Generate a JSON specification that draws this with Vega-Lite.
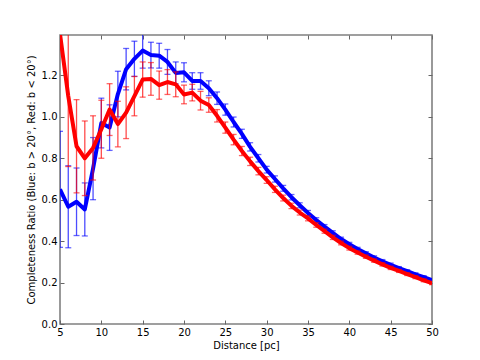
{
  "$schema": "https://vega.github.io/schema/vega-lite/v6.json",
  "width": 372,
  "height": 289,
  "autosize": "none",
  "padding": {"left": 60, "top": 35, "right": 48, "bottom": 36},
  "background": "white",
  "config": {
    "view": {"stroke": "#808080", "strokeWidth": 1.6},
    "axis": {
      "domain": false,
      "grid": false,
      "tickSize": -4,
      "tickColor": "#666666",
      "labelFont": "DejaVu Sans",
      "labelFontSize": 10,
      "labelColor": "#000000",
      "titleFont": "DejaVu Sans",
      "titleFontSize": 10,
      "titleFontWeight": "normal",
      "titleColor": "#000000"
    }
  },
  "datasets": {
    "pts": [
      {"d":5,"s":"blue","v":0.65,"lo":0.37,"hi":0.93},
      {"d":6,"s":"blue","v":0.566,"lo":0.368,"hi":0.764},
      {"d":7,"s":"blue","v":0.59,"lo":0.427,"hi":0.753},
      {"d":8,"s":"blue","v":0.553,"lo":0.425,"hi":0.681},
      {"d":9,"s":"blue","v":0.75,"lo":0.60,"hi":0.90},
      {"d":10,"s":"blue","v":0.97,"lo":0.85,"hi":1.09},
      {"d":11,"s":"blue","v":0.948,"lo":0.838,"hi":1.058},
      {"d":12,"s":"blue","v":1.11,"lo":1.00,"hi":1.22},
      {"d":13,"s":"blue","v":1.23,"lo":1.13,"hi":1.33},
      {"d":14,"s":"blue","v":1.28,"lo":1.195,"hi":1.365},
      {"d":15,"s":"blue","v":1.32,"lo":1.235,"hi":1.405},
      {"d":16,"s":"blue","v":1.298,"lo":1.236,"hi":1.36},
      {"d":17,"s":"blue","v":1.295,"lo":1.235,"hi":1.355},
      {"d":18,"s":"blue","v":1.265,"lo":1.205,"hi":1.325},
      {"d":19,"s":"blue","v":1.212,"lo":1.159,"hi":1.265},
      {"d":20,"s":"blue","v":1.215,"lo":1.169,"hi":1.261},
      {"d":21,"s":"blue","v":1.173,"lo":1.133,"hi":1.213},
      {"d":22,"s":"blue","v":1.173,"lo":1.133,"hi":1.213},
      {"d":23,"s":"blue","v":1.138,"lo":1.102,"hi":1.174},
      {"d":24,"s":"blue","v":1.09,"lo":1.06,"hi":1.12},
      {"d":25,"s":"blue","v":1.035,"lo":1.008,"hi":1.062},
      {"d":26,"s":"blue","v":0.975,"lo":0.951,"hi":0.999},
      {"d":27,"s":"blue","v":0.918,"lo":0.896,"hi":0.94},
      {"d":28,"s":"blue","v":0.855,"lo":0.835,"hi":0.875},
      {"d":29,"s":"blue","v":0.80,"lo":0.782,"hi":0.818},
      {"d":30,"s":"blue","v":0.745,"lo":0.729,"hi":0.761},
      {"d":31,"s":"blue","v":0.70,"lo":0.685,"hi":0.715},
      {"d":32,"s":"blue","v":0.655,"lo":0.641,"hi":0.669},
      {"d":33,"s":"blue","v":0.612,"lo":0.599,"hi":0.625},
      {"d":34,"s":"blue","v":0.573,"lo":0.561,"hi":0.585},
      {"d":35,"s":"blue","v":0.536,"lo":0.524,"hi":0.548},
      {"d":36,"s":"blue","v":0.502,"lo":0.491,"hi":0.513},
      {"d":37,"s":"blue","v":0.47,"lo":0.46,"hi":0.48},
      {"d":38,"s":"blue","v":0.44,"lo":0.43,"hi":0.45},
      {"d":39,"s":"blue","v":0.41,"lo":0.401,"hi":0.419},
      {"d":40,"s":"blue","v":0.385,"lo":0.376,"hi":0.394},
      {"d":41,"s":"blue","v":0.362,"lo":0.354,"hi":0.37},
      {"d":42,"s":"blue","v":0.341,"lo":0.333,"hi":0.349},
      {"d":43,"s":"blue","v":0.321,"lo":0.313,"hi":0.329},
      {"d":44,"s":"blue","v":0.303,"lo":0.295,"hi":0.311},
      {"d":45,"s":"blue","v":0.286,"lo":0.278,"hi":0.294},
      {"d":46,"s":"blue","v":0.27,"lo":0.263,"hi":0.277},
      {"d":47,"s":"blue","v":0.255,"lo":0.248,"hi":0.262},
      {"d":48,"s":"blue","v":0.24,"lo":0.233,"hi":0.247},
      {"d":49,"s":"blue","v":0.226,"lo":0.219,"hi":0.233},
      {"d":50,"s":"blue","v":0.212,"lo":0.205,"hi":0.219},
      {"d":5,"s":"red","v":1.40,"lo":null,"hi":null},
      {"d":6,"s":"red","v":1.10,"lo":0.76,"hi":1.44},
      {"d":7,"s":"red","v":0.858,"lo":0.633,"hi":1.083},
      {"d":8,"s":"red","v":0.80,"lo":0.62,"hi":0.98},
      {"d":9,"s":"red","v":0.85,"lo":0.695,"hi":1.005},
      {"d":10,"s":"red","v":0.94,"lo":0.80,"hi":1.08},
      {"d":11,"s":"red","v":1.035,"lo":0.91,"hi":1.16},
      {"d":12,"s":"red","v":0.965,"lo":0.855,"hi":1.075},
      {"d":13,"s":"red","v":1.02,"lo":0.895,"hi":1.145},
      {"d":14,"s":"red","v":1.10,"lo":1.005,"hi":1.195},
      {"d":15,"s":"red","v":1.18,"lo":1.095,"hi":1.265},
      {"d":16,"s":"red","v":1.183,"lo":1.104,"hi":1.262},
      {"d":17,"s":"red","v":1.153,"lo":1.085,"hi":1.221},
      {"d":18,"s":"red","v":1.168,"lo":1.108,"hi":1.228},
      {"d":19,"s":"red","v":1.157,"lo":1.097,"hi":1.217},
      {"d":20,"s":"red","v":1.108,"lo":1.063,"hi":1.153},
      {"d":21,"s":"red","v":1.117,"lo":1.077,"hi":1.157},
      {"d":22,"s":"red","v":1.078,"lo":1.033,"hi":1.123},
      {"d":23,"s":"red","v":1.057,"lo":1.022,"hi":1.092},
      {"d":24,"s":"red","v":1.005,"lo":0.975,"hi":1.035},
      {"d":25,"s":"red","v":0.948,"lo":0.921,"hi":0.975},
      {"d":26,"s":"red","v":0.89,"lo":0.865,"hi":0.915},
      {"d":27,"s":"red","v":0.835,"lo":0.813,"hi":0.857},
      {"d":28,"s":"red","v":0.785,"lo":0.765,"hi":0.805},
      {"d":29,"s":"red","v":0.738,"lo":0.72,"hi":0.756},
      {"d":30,"s":"red","v":0.695,"lo":0.679,"hi":0.711},
      {"d":31,"s":"red","v":0.65,"lo":0.635,"hi":0.665},
      {"d":32,"s":"red","v":0.608,"lo":0.594,"hi":0.622},
      {"d":33,"s":"red","v":0.57,"lo":0.557,"hi":0.583},
      {"d":34,"s":"red","v":0.538,"lo":0.526,"hi":0.55},
      {"d":35,"s":"red","v":0.51,"lo":0.498,"hi":0.522},
      {"d":36,"s":"red","v":0.478,"lo":0.467,"hi":0.489},
      {"d":37,"s":"red","v":0.448,"lo":0.438,"hi":0.458},
      {"d":38,"s":"red","v":0.418,"lo":0.408,"hi":0.428},
      {"d":39,"s":"red","v":0.391,"lo":0.382,"hi":0.40},
      {"d":40,"s":"red","v":0.366,"lo":0.357,"hi":0.375},
      {"d":41,"s":"red","v":0.345,"lo":0.337,"hi":0.353},
      {"d":42,"s":"red","v":0.325,"lo":0.317,"hi":0.333},
      {"d":43,"s":"red","v":0.306,"lo":0.298,"hi":0.314},
      {"d":44,"s":"red","v":0.288,"lo":0.28,"hi":0.296},
      {"d":45,"s":"red","v":0.271,"lo":0.263,"hi":0.279},
      {"d":46,"s":"red","v":0.256,"lo":0.249,"hi":0.263},
      {"d":47,"s":"red","v":0.241,"lo":0.234,"hi":0.248},
      {"d":48,"s":"red","v":0.226,"lo":0.219,"hi":0.233},
      {"d":49,"s":"red","v":0.211,"lo":0.204,"hi":0.218},
      {"d":50,"s":"red","v":0.197,"lo":0.19,"hi":0.204}
    ]
  },
  "data": {"name": "pts"},
  "resolve": {"axis": {"x": "independent", "y": "independent"}},
  "layer": [
    {
      "transform": [{"filter": "datum.s === 'blue' && datum.lo != null"}],
      "mark": {"type": "rule", "color": "#0000ff", "strokeWidth": 1.3, "opacity": 0.7, "clip": true},
      "encoding": {
        "x": {"field": "d", "type": "quantitative", "scale": {"domain": [5, 50], "nice": false}, "title": "Distance [pc]",
              "axis": {"orient": "bottom", "values": [5,10,15,20,25,30,35,40,45,50], "format": "d", "labelPadding": 7, "titlePadding": 3, "labelFlush": false}},
        "y": {"field": "lo", "type": "quantitative", "scale": {"domain": [0, 1.395], "nice": false, "zero": false},
              "title": "Completeness Ratio (Blue: b > 20°, Red: b < 20°)",
              "axis": {"orient": "left", "values": [0,0.2,0.4,0.6,0.8,1.0,1.2], "format": ".1f", "labelPadding": 7, "titlePadding": 5, "labelFlush": false}},
        "y2": {"field": "hi"}
      }
    },
    {
      "transform": [{"filter": "datum.s === 'blue' && datum.lo != null"}, {"fold": ["lo", "hi"], "as": ["k", "ev"]}],
      "mark": {"type": "tick", "color": "#0000ff", "thickness": 1.3, "size": 6, "opacity": 0.6, "orient": "horizontal", "clip": true},
      "encoding": {
        "x": {"field": "d", "type": "quantitative", "axis": {"orient": "top", "values": [5,10,15,20,25,30,35,40,45,50], "labels": false, "title": null}},
        "y": {"field": "ev", "type": "quantitative", "axis": {"orient": "right", "values": [0,0.2,0.4,0.6,0.8,1.0,1.2], "labels": false, "title": null}}
      }
    },
    {
      "transform": [{"filter": "datum.s === 'blue'"}],
      "mark": {"type": "line", "color": "#0000ff", "strokeWidth": 4, "clip": true, "strokeJoin": "round"},
      "encoding": {
        "x": {"field": "d", "type": "quantitative", "axis": null},
        "y": {"field": "v", "type": "quantitative", "axis": null}
      }
    },
    {
      "transform": [{"filter": "datum.s === 'red' && datum.lo != null"}],
      "mark": {"type": "rule", "color": "#ff0000", "strokeWidth": 1.3, "opacity": 0.7, "clip": true},
      "encoding": {
        "x": {"field": "d", "type": "quantitative", "axis": null},
        "y": {"field": "lo", "type": "quantitative", "axis": null},
        "y2": {"field": "hi"}
      }
    },
    {
      "transform": [{"filter": "datum.s === 'red' && datum.lo != null"}, {"fold": ["lo", "hi"], "as": ["k", "ev"]}],
      "mark": {"type": "tick", "color": "#ff0000", "thickness": 1.3, "size": 6, "opacity": 0.6, "orient": "horizontal", "clip": true},
      "encoding": {
        "x": {"field": "d", "type": "quantitative", "axis": null},
        "y": {"field": "ev", "type": "quantitative", "axis": null}
      }
    },
    {
      "transform": [{"filter": "datum.s === 'red'"}],
      "mark": {"type": "line", "color": "#ff0000", "strokeWidth": 4, "clip": true, "strokeJoin": "round"},
      "encoding": {
        "x": {"field": "d", "type": "quantitative", "axis": null},
        "y": {"field": "v", "type": "quantitative", "axis": null}
      }
    }
  ]
}
